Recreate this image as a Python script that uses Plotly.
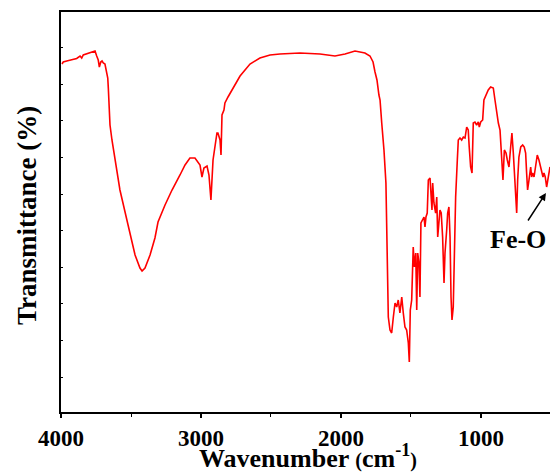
import plotly.graph_objects as go

# FTIR spectrum of the Fe3O4 composite
wavenumber = [
    3993, 3984, 3959, 3936, 3912, 3888, 3864, 3852, 3841, 3816, 3793, 3769, 3757, 3745,
    3734, 3726, 3716, 3707, 3698, 3686, 3674, 3666, 3662, 3657, 3650, 3636, 3614, 3579,
    3521, 3471, 3436, 3421, 3400, 3364, 3329, 3307, 3257, 3207, 3150, 3114, 3079, 3043,
    3007, 2993, 2979, 2957, 2943, 2929, 2914, 2900, 2886, 2879, 2864, 2857, 2850, 2836,
    2829, 2807, 2757, 2721, 2650, 2579, 2507, 2436, 2293, 2150, 2043, 1971, 1900, 1829,
    1793, 1771, 1757, 1743, 1729, 1721, 1709, 1693, 1679, 1674, 1669, 1662, 1650, 1638,
    1626, 1614, 1602, 1591, 1579, 1566, 1555, 1543, 1531, 1519, 1512, 1505, 1495, 1488,
    1484, 1476, 1466, 1459, 1452, 1443, 1436, 1429, 1416, 1407, 1400, 1393, 1384, 1376,
    1364, 1357, 1350, 1345, 1336, 1324, 1316, 1309, 1302, 1293, 1284, 1274, 1264, 1257,
    1245, 1238, 1229, 1221, 1214, 1207, 1198, 1191, 1181, 1169, 1162, 1150, 1138, 1126,
    1114, 1102, 1091, 1084, 1074, 1064, 1055, 1043, 1031, 1019, 1012, 1002, 988, 979,
    964, 948, 931, 912, 900, 888, 876, 864, 852, 843, 833, 821, 812, 800,
    788, 779, 769, 757, 745, 738, 729, 716, 702, 691, 681, 674, 667, 657,
    645, 638, 631, 621, 612, 598, 586, 574, 564, 557, 550, 541, 531, 521, 507,
]
transmittance = [
    87.0, 87.5, 87.75, 88.0, 88.25, 88.4, 89.0, 88.5, 89.25, 89.5, 89.75, 90.0, 90.25, 89.0,
    88.0, 86.25, 87.5, 87.75, 87.25, 87.0, 84.25, 83.5, 81.0, 78.0, 71.75, 68.0, 63.0, 55.5,
    46.75, 39.25, 36.0, 35.25, 36.0, 39.25, 43.5, 47.5, 51.75, 55.5, 59.25, 61.75, 63.5, 63.5,
    61.75, 58.75, 61.0, 61.5, 59.25, 53.0, 63.0, 66.0, 69.75, 69.75, 68.0, 64.25, 74.25, 75.5,
    77.25, 78.75, 81.75, 84.0, 87.0, 88.5, 89.25, 89.5, 89.75, 89.5, 89.0, 89.5, 90.25, 89.75,
    89.0, 87.5, 85.0, 83.0, 79.25, 78.0, 72.25, 65.5, 57.25, 44.75, 33.0, 23.75, 20.5, 19.75,
    23.75, 27.25, 26.25, 28.0, 24.75, 28.75, 24.75, 21.25, 20.5, 17.25, 12.5, 25.5, 28.0, 37.25,
    41.25, 36.25, 39.75, 25.5, 39.75, 37.25, 28.75, 47.25, 48.0, 48.75, 46.25, 48.75, 49.75, 58.0,
    58.5, 55.5, 50.5, 57.25, 52.25, 49.75, 53.75, 43.75, 48.0, 50.5, 49.75, 43.75, 32.25, 39.75,
    45.5, 49.75, 51.25, 43.75, 28.75, 23.0, 26.25, 36.25, 53.75, 63.0, 68.0, 68.5, 68.0, 68.75,
    68.5, 71.25, 70.5, 66.25, 61.25, 59.75, 72.25, 72.5, 71.75, 72.5, 71.25, 72.5, 73.0, 78.0,
    79.25, 80.5, 81.25, 81.0, 78.0, 74.75, 72.25, 70.5, 64.75, 58.0, 65.5, 64.75, 63.0, 61.25,
    66.25, 69.75, 64.75, 55.5, 49.75, 58.0, 63.75, 66.25, 66.75, 66.25, 64.75, 59.75, 55.5, 58.0,
    61.25, 58.75, 59.75, 58.75, 61.25, 64.25, 63.0, 61.25, 60.5, 58.75, 59.75, 58.75, 56.25, 58.75, 61.25,
]

x_ticks = [4000, 3000, 2000, 1000]
x_tick_labels = ["4000", "3000", "2000", "1000"]

# Fe-O band label, arrow tail and the point the arrow marks
feo_label = "Fe-O"
feo_text_pos = (737, 43.25)
feo_arrow_tail = (671, 47.5)
feo_arrow_tip = (536, 54.75)

SERIF = "Liberation Serif, Times New Roman, serif"

fig = go.Figure()
fig.add_trace(go.Scatter(
    x=wavenumber, y=transmittance, mode="lines",
    line=dict(color="#ff0000", width=1.6),
    hoverinfo="x+y",
))

fig.add_annotation(
    x=feo_arrow_tip[0], y=feo_arrow_tip[1],
    ax=feo_arrow_tail[0], ay=feo_arrow_tail[1],
    xref="x", yref="y", axref="x", ayref="y",
    text="", showarrow=True, arrowhead=2, arrowsize=1.0,
    arrowwidth=1.5, arrowcolor="black", standoff=0,
)
fig.add_annotation(
    x=feo_text_pos[0], y=feo_text_pos[1], xref="x", yref="y",
    text="<b>" + feo_label + "</b>", showarrow=False,
    xanchor="center", yanchor="middle",
    font=dict(family=SERIF, size=26, color="black"),
)

# Axis titles
fig.add_annotation(
    x=-0.0695, y=0.49, xref="paper", yref="paper",
    text="<b>Transmittance (%)</b>",
    showarrow=False, textangle=-90, xanchor="center", yanchor="middle",
    font=dict(family=SERIF, size=27, color="black"),
)
fig.add_annotation(
    x=0.278, y=-0.112, xref="paper", yref="paper",
    text="<b>Wavenumber <span style='font-size:20px'>(</span>cm<sup>-1</sup>"
         "<span style='font-size:20px'>)</span></b>",
    showarrow=False, xanchor="left", yanchor="middle",
    font=dict(family=SERIF, size=26, color="black"),
)

fig.update_layout(
    width=550, height=474,
    margin=dict(l=61, r=0, t=12, b=62),
    paper_bgcolor="white", plot_bgcolor="white",
    showlegend=False,
    xaxis=dict(
        range=[4000, 507], tickvals=x_ticks,
        ticktext=["<b>" + t + "</b>" for t in x_tick_labels],
        ticks="outside", ticklen=4, tickwidth=1.6, tickcolor="black",
        minor=dict(dtick=500, tick0=0, ticks="outside", ticklen=3,
                   tickwidth=1.4, tickcolor="black"),
        showline=True, linecolor="black", linewidth=2, mirror=True,
        showgrid=False, zeroline=False,
        tickfont=dict(family=SERIF, size=23, color="black"),
    ),
    yaxis=dict(
        range=[0, 100], showticklabels=False,
        ticks="inside", ticklen=2, tickwidth=1, tickcolor="black",
        tick0=8.75, dtick=9.15,
        showline=True, linecolor="black", linewidth=2,
        showgrid=False, zeroline=False,
    ),
)

fig.write_html("out.html")
